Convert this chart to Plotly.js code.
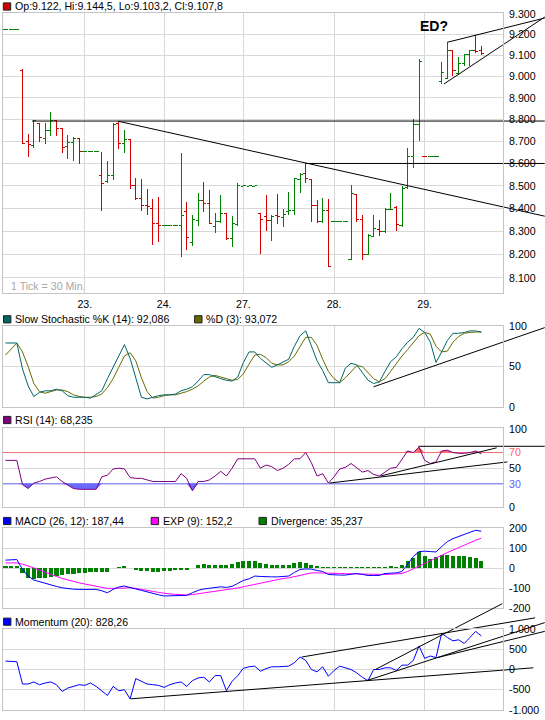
<!DOCTYPE html>
<html><head><meta charset="utf-8">
<script src="https://cdn.plot.ly/plotly-3.0.1.min.js"></script>
<style>html,body{margin:0;padding:0;background:#fff}#chart{width:545px;height:720px}
#chart .ohlclayer path,#chart .trace.ohlc path{shape-rendering:crispEdges}</style>
</head><body><div id="chart"></div>
<script>
// ---------- price bars (30 min) ----------
const open = [9223,9223,9223,9030,8700,8680,8782,8714,8748,8794,
 8759,8676,8694,8714,8655,8655,8655,8544,8518,8545,
 8780,8688,8709,8500,8445,8415,8400,8333,8324,8324,
 8324,8325,8386,8250,8347,8435,8422,8322,8342,8379,
 8268,8330,8499,8499,8499,8376,8365,8345,8367,8358,
 8385,8390,8530,8555,8530,8412,8343,8392,8342,8342,
 8342,8180,8460,8350,8200,8279,8310,8300,8395,8405,
 8325,8493,8630,8776,8633,8632,8632,8975,8990,9122,
 9015,9062,9105,9125,9122];
const high = [9224,9224,9224,9035,8733,8800,8786,8782,8833,8797,
 8760,8729,8720,8716,8656,8656,8656,8653,8613,8782,
 8790,8752,8711,8537,8530,8485,8443,8452,8325,8325,
 8325,8648,8430,8370,8470,8519,8480,8379,8457,8382,
 8368,8514,8500,8500,8500,8378,8460,8372,8465,8396,
 8474,8536,8555,8600,8532,8438,8445,8442,8343,8343,
 8343,8505,8463,8372,8287,8370,8350,8402,8470,8410,
 8497,8670,8804,9082,8633,8633,8633,9068,9163,9125,
 9092,9108,9127,9198,9144.5];
const low = [9223,9223,9223,8688,8627,8671,8698,8686,8726,8724,
 8645,8618,8611,8598,8655,8655,8655,8390,8514,8525,
 8665,8648,8487,8437,8390,8371,8240,8253,8324,8324,
 8324,8189,8218,8238,8321,8385,8331,8292,8338,8262,
 8230,8325,8499,8499,8499,8203,8300,8260,8332,8318,
 8370,8372,8470,8512,8340,8338,8338,8148,8342,8342,
 8342,8178,8340,8176,8198,8278,8280,8293,8393,8300,
 8318,8486,8580,8700,8632,8632,8632,8966,8988,9005,
 9008,9050,9050,9110,9103.2];
const close = [9224,9224,9224,8692,8685,8795,8717,8748,8797,8759,
 8672,8694,8714,8656,8656,8656,8656,8512,8545,8779,
 8688,8709,8500,8445,8412,8410,8333,8325,8325,8325,
 8325,8370,8273,8350,8434,8420,8333,8342,8379,8270,
 8332,8500,8500,8500,8500,8350,8348,8365,8364,8372,
 8390,8532,8550,8532,8413,8344,8390,8150,8343,8343,
 8343,8468,8350,8200,8280,8312,8298,8396,8397,8330,
 8490,8632,8776,9070,8632,8633,8633,9020,9125,9028,
 9062,9105,9124,9121,9107.8];

// ---------- indicators ----------
const stochK = [79,79,79,47,26,13,18,20,20,22,
 20,14,12,12,12,11,16,20,35,49,
 63,77,60,35,12,10,12,14,15,15,
 16,20,22,25,32,40,40,37,35,33,
 32,37,55,68,68,60,54,49,52,56,
 59,75,88,94,76,57,45,30,30,30,
 48,54,52,42,33,29,31,44,56,62,
 72,80,86,97,92,80,55,68,82,91,
 91,92,94,94,92.086];
const stochD = [64,72,79,68,50,29,19,17,19,21,
 21,19,15,13,12,12,13,16,24,35,
 49,63,67,57,36,19,11,12,14,15,
 15,17,19,22,26,32,37,39,37,35,
 33,34,41,53,64,65,61,54,52,52,
 56,63,74,86,86,76,59,44,35,30,
 36,44,51,50,42,35,31,35,44,54,
 63,71,79,88,92,90,75,68,69,80,
 87,91,92,93,93.072];
const rsi = [60,60,60,29,24,31,33,36,38,39,
 33,28,24,23,23,23,23,39,41,49,
 50,49,38,37,37,35,33,33,33,33,
 33,43,37,21,33,33,35,40,46,40,
 50,62,62,62,62,50,54,52,47,50,
 55,62,62,70,57,40,43,31,39,49,
 51,56,51,45,47,42,40,45,50,51,
 62,72,70,77,60,56,58,72,73,70,
 69,69,70,72,68.235];
const macd = [42,45,45,-5,-38,-58,-67,-75,-82,-90,
 -97,-102,-104,-105,-105,-105,-105,-112,-122,-105,
 -93,-88,-97,-103,-110,-118,-125,-132,-138,-138,
 -137,-135,-135,-122,-110,-103,-100,-97,-92,-95,
 -90,-75,-60,-52,-38,-40,-42,-42,-42,-40,
 -38,-20,-5,-2,-3,-10,-15,-30,-33,-33,
 -33,-28,-25,-30,-35,-35,-35,-25,-22,-22,
 -15,20,60,85,87,85,83,110,135,150,
 162,172,182,192,187.44];
const expSig = [28,28,28,22,14,3,-8,-20,-30,-40,
 -50,-58,-66,-72,-78,-84,-90,-97,-100,-100,
 -98,-97,-97,-100,-104,-108,-115,-120,-125,-128,
 -130,-132,-133,-131,-127,-124,-120,-115,-110,-107,
 -104,-98,-92,-86,-80,-72,-66,-60,-55,-50,
 -47,-42,-35,-28,-22,-22,-22,-22,-24,-25,
 -26,-27,-27,-28,-29,-30,-30,-30,-29,-28,
 -25,-15,-2,12,26,40,53,66,80,93,
 106,118,130,142,152.2];
const divergence = [15,15,15,-25,-50,-55,-50,-47,-42,-38,
 -33,-30,-27,-25,-23,-18,-18,-18,-18,0,
 10,13,0,-7,-13,-13,-17,-17,-13,-13,
 -10,-7,-7,0,17,23,20,20,20,20,
 23,33,40,40,40,28,25,20,20,17,
 20,28,33,27,17,12,8,7,7,7,
 7,10,8,7,7,7,7,10,13,10,
 20,37,53,82,65,50,57,70,70,65,
 65,62,58,53,35.237];
const momentum = [208,208,192,-358,-358,-308,-375,-333,-308,-375,
 -542,-458,-417,-375,-392,-333,-417,-542,-642,-417,
 -525,-500,-725,-225,-292,-358,-375,-392,-442,-375,
 -333,-308,-417,-275,-208,-192,-308,-150,-150,-525,
 -292,-150,30,67,83,-42,20,67,67,67,
 83,167,308,225,0,-58,67,-167,-25,83,
 42,0,-83,-192,-275,0,0,42,42,-25,
 108,108,225,583,275,333,292,892,792,708,
 733,642,792,942,828.26];

// ---------- axis labels ----------
const dayTicks = [14, 28, 42, 58, 74];
const dayLabels = ['23.', '24.', '27.', '28.', '29.'];
const priceTicks = [8100,8200,8300,8400,8500,8600,8700,8800,8900,9000,9100,9200,9300];
const priceLabels = ['8.100','8.200','8.300','8.400','8.500','8.600','8.700','8.800','8.900','9.000','9.100','9.200','9.300'];
const stochTicks = [0, 50, 100];
const rsiTicks = [0, 30, 50, 70, 100];
const rsiLabels = ['0','<span style="color:#6060ff">30</span>','50','<span style="color:#ff6060">70</span>','100'];
const macdTicks = [-200,-100,0,100,200];
const macdLabels = ['-200','-100','0','100','200'];
const momTicks = [-1000,-500,0,500,1000];
const momLabels = ['-1.000','-500','0','500','1.000'];

// ---------- drawn trend lines (bar index, value) ----------
const tlPrice = [
  {x:[4.7, 95.2], y:[8793, 8793]},
  {x:[53, 95.2], y:[8600, 8600]},
  {x:[19.9, 95.2], y:[8792, 8366]},
  {x:[78, 95.2], y:[9163, 9280]},
  {x:[77.4, 95.2], y:[8965, 9285]}
];
const tlStoch = [{x:[65, 95.2], y:[25, 98]}];
const tlRsi = [
  {x:[72.9, 95.2], y:[78, 78]},
  {x:[57.2, 88.6], y:[31, 58]},
  {x:[66.2, 86.7], y:[40, 76]}
];
const tlMom = [
  {x:[22.06, 93.2], y:[-725, 42]},
  {x:[52.3, 93.5], y:[308, 1275]},
  {x:[65.3, 87.7], y:[0, 1625]},
  {x:[63.75, 95.2], y:[-275, 1158]},
  {x:[76.2, 95.2], y:[292, 942]}
];

// ---------- helpers ----------
function de(v){
  const s = String(v).split('.');
  const i = s[0].replace(/\B(?=(\d{3})+(?!\d))/g, '.');
  return s[1] ? i + ',' + s[1] : i;
}
const N = open.length;
const idx = Array.from({length:N}, (_, i) => i);
const FONT = 'Liberation Sans, Arial, sans-serif';
const GRID = '#d8d8d8', BORDER = '#c4c4c4';
const XR = [-0.44, 87.83];
const PX = p => (p - 3) / 500;
const PY = p => 1 - p / 720;

const data = [];
data.push({type:'ohlc', x:idx, open:open, high:high, low:low, close:close,
  xaxis:'x', yaxis:'y', tickwidth:0.45, hoverinfo:'skip',
  increasing:{line:{color:'#008000', width:1}},
  decreasing:{line:{color:'#d40000', width:1}}});
function addLines(list, ya){
  list.forEach(l => data.push({type:'scatter', mode:'lines', x:l.x, y:l.y, xaxis:'x', yaxis:ya,
    line:{color:'#000', width:1}, hoverinfo:'skip'}));
}
addLines(tlPrice, 'y');

data.push({type:'scatter', mode:'lines', x:idx, y:stochD, xaxis:'x', yaxis:'y2', line:{color:'#6b6b00', width:1}, hoverinfo:'skip'});
data.push({type:'scatter', mode:'lines', x:idx, y:stochK, xaxis:'x', yaxis:'y2', line:{color:'#006666', width:1}, hoverinfo:'skip'});
addLines(tlStoch, 'y2');

data.push({type:'scatter', mode:'lines', x:idx, y:idx.map(() => 30), xaxis:'x', yaxis:'y3', line:{width:0}, hoverinfo:'skip'});
data.push({type:'scatter', mode:'lines', x:idx, y:rsi.map(v => Math.min(v, 30)), xaxis:'x', yaxis:'y3', line:{width:0}, fill:'tonexty', fillcolor:'#6a6aff', hoverinfo:'skip'});
data.push({type:'scatter', mode:'lines', x:idx, y:idx.map(() => 70), xaxis:'x', yaxis:'y3', line:{width:0}, hoverinfo:'skip'});
data.push({type:'scatter', mode:'lines', x:idx, y:rsi.map(v => Math.max(v, 70)), xaxis:'x', yaxis:'y3', line:{width:0}, fill:'tonexty', fillcolor:'#ff6a6a', hoverinfo:'skip'});
data.push({type:'scatter', mode:'lines', x:idx, y:rsi, xaxis:'x', yaxis:'y3', line:{color:'#800080', width:1}, hoverinfo:'skip'});
addLines(tlRsi, 'y3');

data.push({type:'bar', x:idx, y:divergence, xaxis:'x', yaxis:'y4', width:0.72, marker:{color:'#008000', line:{width:0}}, hoverinfo:'skip'});
data.push({type:'scatter', mode:'lines', x:idx, y:expSig, xaxis:'x', yaxis:'y4', line:{color:'#ff00ff', width:1}, hoverinfo:'skip'});
data.push({type:'scatter', mode:'lines', x:idx, y:macd, xaxis:'x', yaxis:'y4', line:{color:'#0000ff', width:1}, hoverinfo:'skip'});

data.push({type:'scatter', mode:'lines', x:idx, y:momentum, xaxis:'x', yaxis:'y5', line:{color:'#0000ff', width:1}, hoverinfo:'skip'});
addLines(tlMom, 'y5');

function yax(dom, range, tv, tt, extra){
  return Object.assign({domain:dom, range:range, side:'right', anchor:'x', tickvals:tv, ticktext:tt,
    showgrid:true, gridcolor:GRID, gridwidth:1, zeroline:false, showline:true, mirror:true,
    linecolor:BORDER, linewidth:1, ticks:'outside', ticklen:3, tickcolor:'rgba(0,0,0,0)',
    tickfont:{family:FONT, size:10.6, color:'#000'}, fixedrange:true}, extra || {});
}

const legends = [
  {c:'#cc0000', x:3.3, y:6.5, t:'Op:' + de(open[N-1]) + ', Hi:' + de(high[N-1]) + ', Lo:' + de(low[N-1]) + ', Cl:' + de(close[N-1])},
  {c:'#006666', x:3.5, y:319.3, t:'Slow Stochastic %K (14): ' + de(stochK[N-1])},
  {c:'#666600', x:194.6, y:319.3, t:'%D (3): ' + de(stochD[N-1])},
  {c:'#800080', x:3.5, y:420, t:'RSI (14): ' + de(rsi[N-1])},
  {c:'#0000ff', x:3.5, y:521, t:'MACD (26, 12): ' + de(macd[N-1])},
  {c:'#ff00ff', x:151.2, y:521, t:'EXP (9): ' + de(expSig[N-1])},
  {c:'#008000', x:259, y:521, t:'Divergence: ' + de(divergence[N-1])},
  {c:'#0000ff', x:3.5, y:621.7, t:'Momentum (20): ' + de(momentum[N-1])}
];
const shapes = [
  {type:'line', xref:'x', yref:'y3', x0:XR[0], x1:XR[1], y0:70, y1:70, line:{color:'#f07070', width:1}, layer:'between'},
  {type:'line', xref:'x', yref:'y3', x0:XR[0], x1:XR[1], y0:30, y1:30, line:{color:'#6a6aff', width:1}, layer:'between'}
];
const annotations = [];
legends.forEach(l => {
  shapes.push({type:'rect', xref:'paper', yref:'paper', x0:PX(l.x), x1:PX(l.x + 7.4), y0:PY(l.y + 3.6), y1:PY(l.y - 3.6),
    fillcolor:l.c, line:{color:'#222', width:1}});
  annotations.push({xref:'paper', yref:'paper', x:PX(l.x + 9.6), y:PY(l.y), xanchor:'left', yanchor:'middle',
    text:l.t, showarrow:false, font:{family:FONT, size:10.6, color:'#000'}});
});
annotations.push({xref:'paper', yref:'paper', x:PX(9), y:PY(285.7), xanchor:'left', yanchor:'middle',
  text:'1 Tick = 30 Min.', showarrow:false, font:{family:FONT, size:10.6, color:'#a8a8a8'}});
annotations.push({xref:'x', yref:'y', x:75.7, y:Math.log10(9240), xanchor:'center', yanchor:'middle',
  text:'<b>ED?</b>', showarrow:false, font:{family:FONT, size:14, color:'#000'}});

const layout = {
  width:545, height:720, margin:{l:3, r:42, t:0, b:0},
  paper_bgcolor:'#fff', plot_bgcolor:'#fff', showlegend:false, hovermode:false,
  font:{family:FONT, size:10.6, color:'#000'},
  xaxis:{domain:[0,1], range:XR, anchor:'y', tickvals:dayTicks, ticktext:dayLabels,
    showgrid:true, gridcolor:GRID, gridwidth:1, zeroline:false, showline:true, mirror:'all',
    linecolor:BORDER, linewidth:1, ticks:'outside', ticklen:2, tickcolor:'rgba(0,0,0,0)',
    tickfont:{family:FONT, size:10.6, color:'#000'}, rangeslider:{visible:false}, fixedrange:true},
  yaxis: yax([0.59347, 0.98153], [Math.log10(8037.6), Math.log10(9303)], priceTicks, priceLabels, {type:'log'}),
  yaxis2: yax([0.43472, 0.54722], [0, 100], stochTicks, stochTicks.map(String)),
  yaxis3: yax([0.29542, 0.40514], [0, 101], rsiTicks, rsiLabels),
  yaxis4: yax([0.15514, 0.26625], [-200, 202], macdTicks, macdLabels),
  yaxis5: yax([0.01389, 0.12639], [-1000, 1000], momTicks, momLabels),
  shapes:shapes, annotations:annotations, bargap:0
};

Plotly.newPlot('chart', data, layout, {staticPlot:true, displayModeBar:false}).then(gd => {
  gd.querySelectorAll('.cartesianlayer [clip-path]').forEach(el => el.removeAttribute('clip-path'));
});
</script></body></html>
